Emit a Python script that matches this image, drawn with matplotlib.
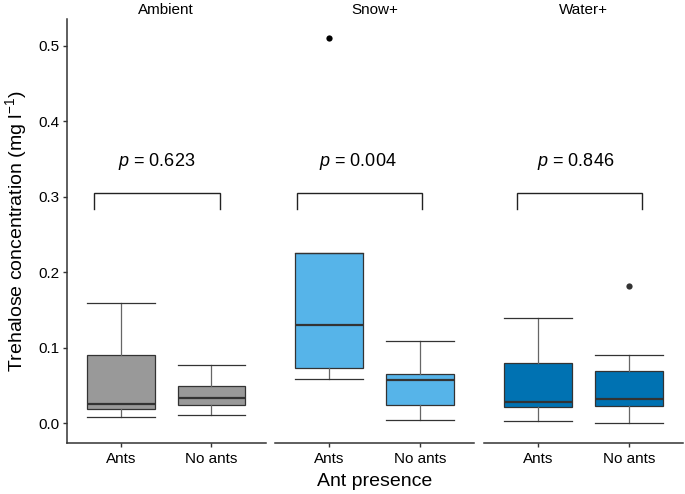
import matplotlib
matplotlib.use("Agg")
import matplotlib.pyplot as plt

plt.rcParams['font.family'] = ['Liberation Sans', 'DejaVu Sans']
plt.rcParams['mathtext.fontset'] = 'custom'
plt.rcParams['mathtext.rm'] = 'Liberation Sans'
plt.rcParams['mathtext.it'] = 'Liberation Sans:italic'

# ---- data ----
panels = ["Ambient", "Snow+", "Water+"]
categories = ["Ants", "No ants"]
colors = ["#999999", "#56B4E9", "#0072B2"]

whislo = [[0.008, 0.011], [0.059, 0.005], [0.003, 0.000]]
q1 = [[0.019, 0.024], [0.074, 0.024], [0.022, 0.023]]
med = [[0.026, 0.034], [0.130, 0.057], [0.029, 0.032]]
q3 = [[0.090, 0.049], [0.226, 0.066], [0.080, 0.070]]
whishi = [[0.159, 0.077], [0.226, 0.109], [0.140, 0.090]]
fliers = [[[], []], [[0.510], []], [[], [0.182]]]
p_values = ["0.623", "0.004", "0.846"]

W, H = 685, 494
fig = plt.figure(figsize=(W / 100, H / 100), dpi=100)

lefts = [66.7, 275.0, 484.0]
pw = 199.0
top_px, bot_px = 19.0, 442.7

# manual annotation placement (x in data units)
bracket_x = [(0.705, 2.094), (0.64, 2.024), (0.761, 2.146)]
text_x = [1.394, 1.31, 1.41]

edge = "#333333"
for i, name in enumerate(panels):
    ax = fig.add_axes([lefts[i] / W, 1 - bot_px / H, pw / W, (bot_px - top_px) / H])
    stats = []
    for j, cat in enumerate(categories):
        stats.append(dict(whislo=whislo[i][j], q1=q1[i][j], med=med[i][j],
                          q3=q3[i][j], whishi=whishi[i][j], fliers=fliers[i][j],
                          label=cat))
    ax.bxp(stats, positions=[1, 2], widths=0.75, capwidths=0.75,
           patch_artist=True, showfliers=True,
           boxprops=dict(facecolor=colors[i], edgecolor=edge, linewidth=0.9),
           medianprops=dict(color=edge, linewidth=1.6),
           whiskerprops=dict(color="#666666", linewidth=0.9),
           capprops=dict(color=edge, linewidth=0.9),
           flierprops=dict(marker='o', markerfacecolor='black' if i == 1 else '#333333',
                           markeredgecolor='none', markersize=4.5))
    ax.set_xlim(0.4, 2.6)
    ax.set_ylim(-0.0255, 0.5355)
    ax.set_xticks([1, 2])
    ax.set_xticklabels(categories, fontsize=11)
    for s in ["top", "right"]:
        ax.spines[s].set_visible(False)
    ax.spines["bottom"].set_color("#333333")
    ax.spines["bottom"].set_linewidth(1.1)
    ax.tick_params(axis='x', length=3, width=1.0, color="#333333", pad=4)
    if i == 0:
        ax.spines["left"].set_color("#333333")
        ax.spines["left"].set_linewidth(1.1)
        ax.set_yticks([0.0, 0.1, 0.2, 0.3, 0.4, 0.5])
        ax.set_yticklabels(["0.0", "0.1", "0.2", "0.3", "0.4", "0.5"], fontsize=11)
        ax.tick_params(axis='y', length=3, width=1.0, color="#333333", pad=2)
    else:
        ax.spines["left"].set_visible(False)
        ax.set_yticks([])
    ax.patch.set_alpha(0)

    # significance bracket
    x0, x1 = bracket_x[i]
    ax.plot([x0, x0, x1, x1], [0.284, 0.3056, 0.3056, 0.284], color="#222222",
            linewidth=1.0, solid_joinstyle='miter')
    ax.text(text_x[i], 0.3465, r"$\it{p}$ = " + p_values[i], ha='center', va='center',
            fontsize=13)
    # facet title
    fig.text((lefts[i] + pw / 2) / W, 1 - 9.5 / H, name, ha='center', va='center',
             fontsize=11)

fig.text(16 / W, 1 - 231 / H, r"Trehalose concentration (mg l$^{-1}$)", rotation=90,
         ha='center', va='center', fontsize=14)
fig.text(374.5 / W, 1 - 481.5 / H, "Ant presence", ha='center', va='center', fontsize=14)

fig.savefig("out.png", dpi=100)
